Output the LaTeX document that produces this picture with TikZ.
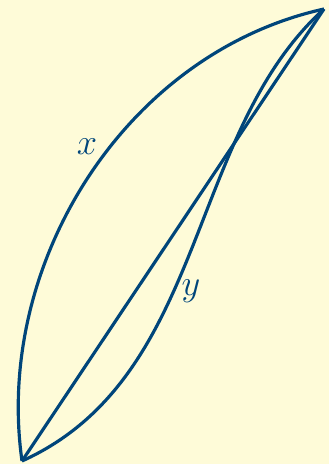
\documentclass[tikz,border=0pt]{standalone}
\usepackage{amsmath}
\usetikzlibrary{positioning}
\definecolor{pathblue}{RGB}{0,69,122}
\definecolor{paper}{RGB}{254,251,216}
\begin{document}
\begin{tikzpicture}[x=0.02cm, y=-0.02cm, line width=1.8pt, pathblue,
    lbl/.style={font=\fontsize{21}{25}\selectfont, text=pathblue}]
    % Background
    \fill[paper] (0,0) rectangle (329,464);
    \useasboundingbox (0,0) rectangle (329,464);

    % End points
    \coordinate (p) at (22,461);
    \coordinate (q) at (324,9);

    % Path x, bulging up-left
    \draw (p) .. controls (-6,264) and (125,53) .. (q);
    % Path y, crossing the chord
    \draw (p) .. controls (208,377) and (186,134) .. (q);
    % Straight path
    \draw (p) -- (q);

    \node[lbl] (xlab) at (87,147) {$x$};
    \node[lbl] (ylab) at (191,291) {$y$};
\end{tikzpicture}
\end{document}
